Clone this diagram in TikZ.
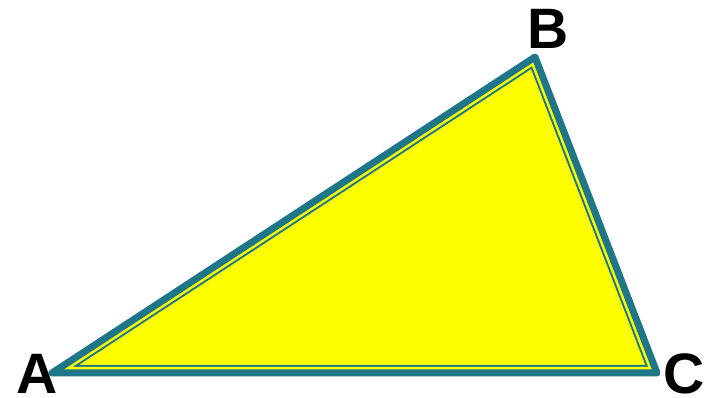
\documentclass[tikz,border=0pt]{standalone}
\usepackage{fontspec}
\setmainfont{Liberation Sans}
\definecolor{teal1}{RGB}{30,118,136}
\definecolor{yel}{RGB}{255,255,0}
\tikzset{lbl/.style={font=\bfseries\fontsize{57}{57}\selectfont, inner sep=0pt, text=black}}
\begin{document}
\begin{tikzpicture}[x=1pt,y=-1pt]
\useasboundingbox (0,0) rectangle (716,398);
\coordinate (A) at (52,373);
\coordinate (B) at (535,57);
\coordinate (C) at (657,373);
\fill[yel] (A) -- (B) -- (C) -- cycle;
\begin{scope}
\clip (A) -- (B) -- (C) -- cycle;
\draw[teal1, line width=16pt, line join=miter] (A) -- (B) -- (C) -- cycle;
\draw[yel, line width=12pt, line join=miter] (A) -- (B) -- (C) -- cycle;
\end{scope}
\draw[teal1, line width=7pt, line join=round] (A) -- (B) -- (C) -- cycle;
\node[lbl] (la) at (37,374) {A};
\node[lbl] (lb) at (548,29) {B};
\node[lbl] (lc) at (684,374) {C};
\end{tikzpicture}
\end{document}
